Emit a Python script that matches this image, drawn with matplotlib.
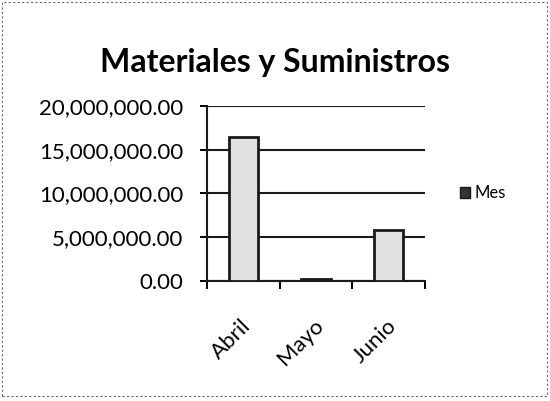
import numpy as np
import matplotlib.pyplot as plt
from matplotlib.ticker import FuncFormatter
from matplotlib.patches import Rectangle, Patch

# datos
meses = ['Abril', 'Mayo', 'Junio']
valores = [16400000, 250000, 5800000]
serie = 'Mes'

plt.rcParams['font.family'] = ['Lato', 'DejaVu Sans']

fig = plt.figure(figsize=(5.5, 4.01), dpi=100)
ax = fig.add_axes([0.376, 0.299, 0.397, 0.437])

x = np.arange(len(meses))
ax.bar(x, valores, width=0.4, color='#e2e2e2', edgecolor='#1a1a1a',
       linewidth=2, zorder=3, label=serie)

ax.set_xlim(-0.5, len(meses) - 0.5)
ax.set_ylim(0, 20000000)
ax.set_yticks(np.arange(0, 20000001, 5000000))
ax.yaxis.set_major_formatter(FuncFormatter(lambda v, p: f'{v:,.2f}'))
ax.grid(axis='y', color='#1a1a1a', linewidth=1.5, zorder=0)

# marcas del eje x entre categorias
ax.set_xticks(np.arange(-0.5, len(meses), 1.0))
ax.set_xticklabels([])
ax.set_xticks(x + 0.06, minor=True)
ax.set_xticklabels(meses, minor=True, rotation=45, ha='right', va='center',
                   rotation_mode='anchor', fontsize=16)
ax.tick_params(axis='x', which='minor', length=0, pad=30)
ax.tick_params(axis='x', which='major', length=6, width=1.4, direction='out')
ax.tick_params(axis='y', length=5, width=1.4, labelsize=16, pad=12)

for s in ['top', 'right']:
    ax.spines[s].set_visible(False)
for s in ['left', 'bottom']:
    ax.spines[s].set_linewidth(1.5)
    ax.spines[s].set_color('#1a1a1a')

fig.text(0.5, 0.845, 'Materiales y Suministros', ha='center', va='center',
         fontsize=23, fontweight='bold')

handle = Patch(facecolor='#333333', edgecolor='#1a1a1a', label=serie)
ax.legend(handles=[handle], loc='center left', bbox_to_anchor=(1.09, 0.5),
          frameon=False, fontsize=12, handlelength=0.6, handleheight=0.6,
          handletextpad=0.3)

# borde del grafico
fig.patches.append(Rectangle((0.004, 0.012), 0.99, 0.984, transform=fig.transFigure,
                             fill=False, edgecolor='#666666', linewidth=0.8,
                             linestyle=(0, (2, 2))))

fig.savefig('out.png', dpi=100)
